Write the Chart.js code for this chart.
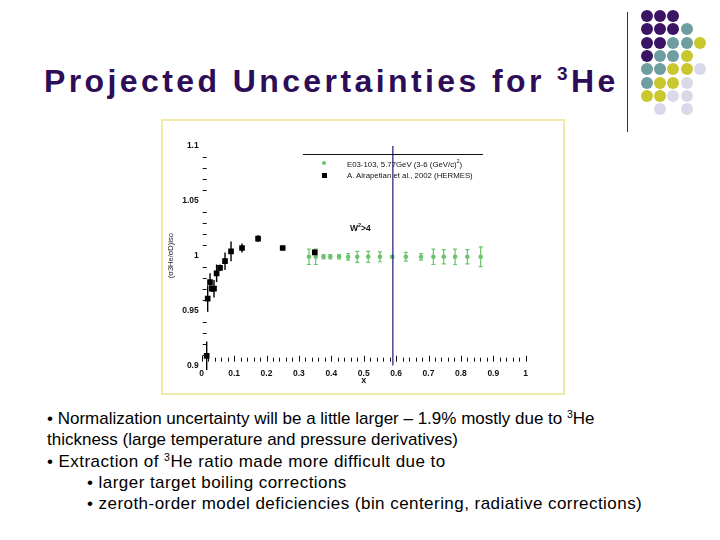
<!DOCTYPE html>
<html>
<head>
<meta charset="utf-8">
<script src="https://cdn.jsdelivr.net/npm/chart.js@4/dist/chart.umd.min.js"></script>
<style>
  body { margin: 0; width: 720px; height: 540px; background: #fff; position: relative; overflow: hidden; font-family: "Liberation Sans", Arial, sans-serif; }
  .title { position: absolute; left: 44px; top: 63px; font-size: 32px; font-weight: bold; color: #2d0d57; letter-spacing: 3.4px; white-space: nowrap; }
  .title sup { font-size: 19px; vertical-align: 12px; line-height: 0; }
  .vline { position: absolute; left: 627px; top: 12px; width: 1px; height: 120px; background: #333; }
  .dot { position: absolute; width: 12px; height: 12px; border-radius: 50%; }
  .frame { position: absolute; left: 161px; top: 119px; width: 400px; height: 272px; border: 2px solid #efeba6; }
  .legend { position: absolute; left: 303px; top: 154px; width: 180px; border-top: 1px solid #111; font-size: 7.8px; color: #111; }
  .legend .row { position: absolute; left: 0; white-space: nowrap; }
  .legend .mk { position: absolute; }
  .legend .tx { position: absolute; left: 44px; }
  .wlabel { position: absolute; left: 350px; top: 223px; font-size: 8.5px; font-weight: bold; color: #111; }
  .wlabel sup { font-size: 5.5px; vertical-align: 4px; line-height: 0; }
  .body { position: absolute; left: 47px; top: 408px; font-size: 17px; line-height: 21.3px; color: #000; white-space: nowrap; }
  .body sup { font-size: 10.5px; vertical-align: 6px; line-height: 0; }
  .body .wide { letter-spacing: 0.45px; }
  .body .ind { padding-left: 40px; }
</style>
</head>
<body>
<div class="title">Projected Uncertainties for <sup>3</sup>He</div>
<div class="vline"></div>
<div id="dots"></div>

<div class="frame"><canvas id="chart" width="400" height="272"></canvas></div>

<div class="legend">
  <div class="row" style="top:3px">
    <span class="mk" style="left:19px;top:2.5px;width:4px;height:4px;border-radius:50%;background:#6cc36c"></span>
    <span class="tx">E03-103, 5.77GeV (3-6 (GeV/c)<sup style="font-size:5px">2</sup>)</span>
  </div>
  <div class="row" style="top:16px">
    <span class="mk" style="left:19px;top:2px;width:5px;height:5px;background:#000"></span>
    <span class="tx">A. Airapetian et al., 2002 (HERMES)</span>
  </div>
</div>
<div class="wlabel">W<sup>2</sup>&gt;4</div>

<div class="body">
  <div>• Normalization uncertainty will be a little larger – 1.9% mostly due to <sup>3</sup>He</div>
  <div>thickness (large temperature and pressure derivatives)</div>
  <div class="wide">• Extraction of <sup>3</sup>He ratio made more difficult due to</div>
  <div class="wide ind">• larger target boiling corrections</div>
  <div class="wide ind">• zeroth-order model deficiencies (bin centering, radiative corrections)</div>
</div>

<script>
// decoration top right
const dotRows = ["PPP..", "PPPT.", "PPTTY", "PTTY.", "TTYYL", "TYYL.", "YYLL.", ".L.L."];
const dotColors = { P: "#3b1464", T: "#6f9ea0", Y: "#c9c72e", L: "#d9d9ea" };
const dotsEl = document.getElementById("dots");
dotRows.forEach((row, r) => {
  [...row].forEach((c, i) => {
    if (c === ".") return;
    const d = document.createElement("div");
    d.className = "dot";
    d.style.left = (641 + i * 13.2) + "px";
    d.style.top = (10 + r * 13.3) + "px";
    d.style.background = dotColors[c];
    dotsEl.appendChild(d);
  });
});

// HERMES (black squares)
const hermesX = [0.0154, 0.0185, 0.0257, 0.031, 0.038, 0.046, 0.0566, 0.072, 0.0905, 0.1245, 0.174, 0.25, 0.349];
const hermesY = [0.909, 0.961, 0.976, 0.970, 0.970, 0.984, 0.989, 0.995, 1.004, 1.007, 1.0155, 1.007, 1.003];
const hermesErr = [0.013, 0.012, 0.008, 0.003, 0.008, 0.008, 0.003, 0.008, 0.009, 0.004, 0.003, 0.002, 0.003];

// E03-103 projection (green)
const e03X = [0.331, 0.352, 0.376, 0.397, 0.424, 0.452, 0.480, 0.514, 0.550, 0.588, 0.630, 0.677, 0.715, 0.747, 0.782, 0.820, 0.861];
const e03Y = [0.999, 0.999, 0.999, 0.999, 0.999, 0.999, 0.999, 0.999, 0.999, 0.999, 0.999, 0.999, 0.999, 0.999, 0.999, 0.999, 0.999];
const e03Err = [0.007, 0.007, 0.002, 0.002, 0.002, 0.003, 0.005, 0.005, 0.0045, 0.001, 0.004, 0.003, 0.007, 0.0065, 0.007, 0.0065, 0.009];

// W^2 > 4 cut line
const cutX = [0.59, 0.59];
const cutY = [0.9, 1.1];

const xTickLabels = ["0", "0.1", "0.2", "0.3", "0.4", "0.5", "0.6", "0.7", "0.8", "0.9", "1"];
const yTickLabels = ["0.9", "0.95", "1", "1.05", "1.1"];

const toPoints = (xs, ys) => xs.map((x, i) => ({ x: x, y: ys[i] }));

const errorBars = {
  id: "errorBars",
  beforeDatasetsDraw(chart) {
    const ctx = chart.ctx;
    const xs = chart.scales.x, ys = chart.scales.y;
    const sets = [
      { xs: hermesX, ys: hermesY, err: hermesErr, color: "#000", cap: 0, width: 1.4 },
      { xs: e03X, ys: e03Y, err: e03Err, color: "#6cc36c", cap: 2, width: 1.2 }
    ];
    ctx.save();
    sets.forEach(s => {
      ctx.strokeStyle = s.color;
      ctx.lineWidth = s.width;
      s.xs.forEach((x, i) => {
        const px = xs.getPixelForValue(x);
        const top = ys.getPixelForValue(s.ys[i] + s.err[i]);
        const bot = ys.getPixelForValue(s.ys[i] - s.err[i]);
        ctx.beginPath();
        ctx.moveTo(px, top); ctx.lineTo(px, bot);
        if (s.cap) {
          ctx.moveTo(px - s.cap, top); ctx.lineTo(px + s.cap, top);
          ctx.moveTo(px - s.cap, bot); ctx.lineTo(px + s.cap, bot);
        }
        ctx.stroke();
      });
    });
    ctx.restore();
  }
};

// tick marks drawn inside the frame, like the original plot
const innerTicks = {
  id: "innerTicks",
  afterDraw(chart) {
    const ctx = chart.ctx, area = chart.chartArea;
    ctx.save();
    ctx.strokeStyle = "#111";
    ctx.lineWidth = 1;
    chart.scales.y.ticks.forEach(t => {
      const idx = Math.round((t.value - 0.9) * 100);
      if (idx % 5 === 0) return;
      const py = Math.round(chart.scales.y.getPixelForValue(t.value)) + 0.5;
      ctx.beginPath(); ctx.moveTo(area.left + 1, py); ctx.lineTo(area.left + 5, py); ctx.stroke();
    });
    chart.scales.x.ticks.forEach(t => {
      const idx = Math.round(t.value * 100);
      const px = Math.round(chart.scales.x.getPixelForValue(t.value)) + 0.5;
      const len = idx % 10 === 0 ? 6 : 4;
      ctx.beginPath(); ctx.moveTo(px, area.bottom - 4); ctx.lineTo(px, area.bottom - 4 - len); ctx.stroke();
    });
    ctx.restore();
  }
};

new Chart(document.getElementById("chart"), {
  type: "scatter",
  data: {
    datasets: [
      {
        label: "cut",
        data: toPoints(cutX, cutY),
        showLine: true,
        borderColor: "#1c1c7c",
        borderWidth: 1.2,
        pointRadius: 0
      },
      {
        label: "A. Airapetian et al., 2002 (HERMES)",
        data: toPoints(hermesX, hermesY),
        pointStyle: "rect",
        pointRadius: 4,
        backgroundColor: "#000",
        borderColor: "#000",
        borderWidth: 0
      },
      {
        label: "E03-103, 5.77GeV",
        data: toPoints(e03X, e03Y),
        pointStyle: "circle",
        pointRadius: 2.3,
        backgroundColor: "#6cc36c",
        borderColor: "#6cc36c",
        borderWidth: 0
      }
    ]
  },
  options: {
    responsive: false,
    animation: false,
    devicePixelRatio: 1,
    layout: { padding: { left: 0, top: 24.7, right: 37.3, bottom: 0 } },
    plugins: { legend: { display: false }, tooltip: { enabled: false } },
    scales: {
      x: {
        type: "linear",
        min: 0,
        max: 1,
        grid: { display: false, drawTicks: false },
        border: { display: false },
        afterFit: (scale) => { scale.height = 27.3; },
        ticks: {
          stepSize: 0.02,
          autoSkip: false,
          maxRotation: 0,
          padding: 3,
          color: "#111",
          font: { family: "Liberation Sans", size: 8.5, weight: "bold" },
          callback: (v) => {
            const idx = Math.round(v * 100);
            return idx % 10 === 0 ? xTickLabels[idx / 10] : "";
          }
        },
        title: {
          display: true,
          text: "x",
          color: "#111",
          padding: { top: 0, bottom: 7 },
          font: { family: "Liberation Sans", size: 9, weight: "bold", lineHeight: 1.2 }
        }
      },
      y: {
        type: "linear",
        min: 0.9,
        max: 1.1,
        grid: { display: false, drawTicks: false },
        border: { display: false },
        afterFit: (scale) => { scale.width = 38.7; },
        ticks: {
          stepSize: 0.01,
          autoSkip: false,
          padding: 3,
          color: "#111",
          font: { family: "Liberation Sans", size: 8.5, weight: "bold" },
          callback: (v) => {
            const idx = Math.round((v - 0.9) * 100);
            return idx % 5 === 0 ? yTickLabels[idx / 5] : "";
          }
        },
        title: {
          display: true,
          text: "(σ3He/σD)iso",
          color: "#222",
          padding: { top: 3, bottom: 0 },
          font: { family: "Liberation Sans", size: 7.5, lineHeight: 1.2 }
        }
      }
    }
  },
  plugins: [errorBars, innerTicks]
});
</script>
</body>
</html>
